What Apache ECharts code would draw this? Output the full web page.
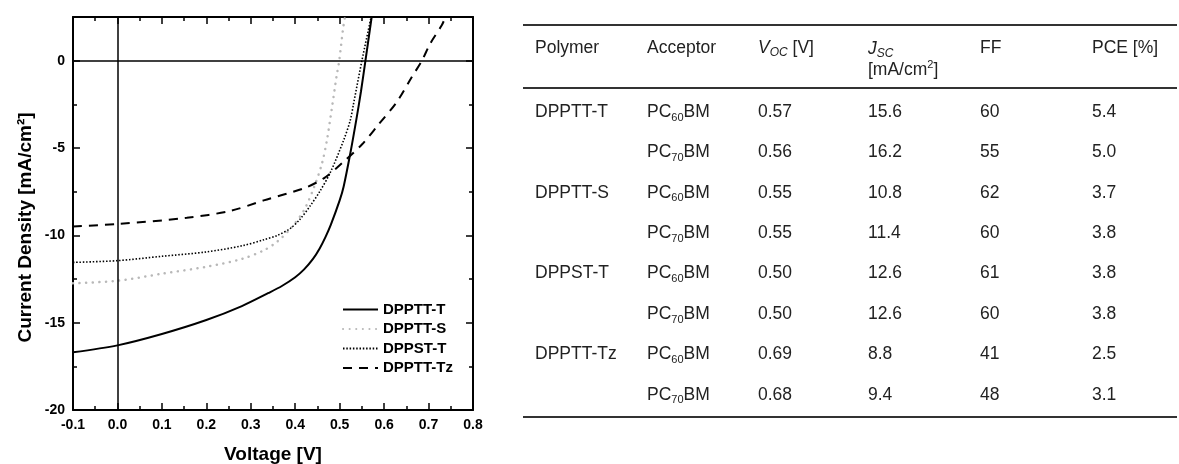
<!DOCTYPE html>
<html>
<head>
<meta charset="utf-8">
<script src="https://cdn.jsdelivr.net/npm/echarts@6/dist/echarts.min.js"></script>
<style>
html, body { margin: 0; padding: 0; background: #fff; }
#main { width: 1179px; height: 464px; }
</style>
</head>
<body>
<div id="main"></div>
<script>
// J-V curves, voltage [V] / current density [mA/cm2]
var vTT  = [-0.1, 0, 0.1, 0.2, 0.28, 0.34, 0.37, 0.4, 0.42, 0.44, 0.455, 0.468, 0.48, 0.5, 0.509, 0.524, 0.537, 0.548, 0.558, 0.572];
var jTT  = [-16.7, -16.3, -15.65, -14.85, -14.05, -13.3, -12.9, -12.4, -11.95, -11.35, -10.75, -10.1, -9.4, -8.0, -7.2, -5.3, -3.45, -1.75, 0, 2.5];
var vTS  = [-0.1, 0, 0.1, 0.2, 0.28, 0.33, 0.36, 0.39, 0.42, 0.443, 0.46, 0.471, 0.482, 0.493, 0.499, 0.508, 0.512];
var jTS  = [-12.75, -12.6, -12.2, -11.8, -11.35, -10.85, -10.35, -9.6, -8.55, -7.2, -5.9, -4.6, -2.8, -0.9, 0, 1.9, 2.5];
var vST  = [-0.1, 0, 0.1, 0.2, 0.28, 0.33, 0.36, 0.389, 0.41, 0.434, 0.455, 0.479, 0.509, 0.524, 0.531, 0.55, 0.57];
var jST  = [-11.55, -11.45, -11.2, -10.95, -10.6, -10.25, -10.0, -9.6, -9.1, -8.3, -7.5, -6.4, -4.55, -3.4, -2.5, 0, 2.4];
var vTz  = [-0.1, 0, 0.156, 0.254, 0.329, 0.42, 0.465, 0.505, 0.55, 0.587, 0.629, 0.662, 0.685, 0.704, 0.73, 0.738];
var jTz  = [-9.49, -9.35, -9.0, -8.6, -8.0, -7.3, -6.72, -5.87, -4.8, -3.67, -2.35, -0.95, 0, 0.99, 2.04, 2.5];

// table
var polymers  = ['DPPTT-T', '', 'DPPTT-S', '', 'DPPST-T', '', 'DPPTT-Tz', ''];
var fullerene = ['60', '70', '60', '70', '60', '70', '60', '70'];
var voc = [0.57, 0.56, 0.55, 0.55, 0.50, 0.50, 0.69, 0.68];
var jsc = [15.6, 16.2, 10.8, 11.4, 12.6, 12.6, 8.8, 9.4];
var ff  = [60, 55, 62, 60, 61, 60, 41, 48];
var pce = [5.4, 5.0, 3.7, 3.8, 3.8, 3.8, 2.5, 3.1];

function zip(xs, ys) {
    var out = [];
    for (var i = 0; i < xs.length; i++) out.push([xs[i], ys[i]]);
    return out;
}

var FONT = '"Liberation Sans", Arial, sans-serif';
var tickStyle = {color: '#000', width: 1.5};

function xAx(pos, showLabel) {
    return {
        type: 'value', position: pos, min: -0.1, max: 0.8, interval: 0.1,
        axisLine: {onZero: false, lineStyle: {color: '#000', width: 2}},
        axisTick: {inside: true, length: 7, lineStyle: tickStyle},
        minorTick: {show: true, splitNumber: 2, length: 4, lineStyle: tickStyle},
        splitLine: {show: false},
        axisLabel: {
            show: showLabel, margin: 8, color: '#000', fontWeight: 'bold', fontSize: 14, fontFamily: FONT,
            formatter: function (v) { return Math.abs(v) < 1e-9 ? '0.0' : v.toFixed(1); }
        },
        name: showLabel ? 'Voltage [V]' : '', nameLocation: 'middle', nameGap: 35,
        nameTextStyle: {color: '#000', fontWeight: 'bold', fontSize: 19, fontFamily: FONT}
    };
}
function yAx(pos, major, showLabel) {
    return {
        type: 'value', position: pos, min: -20, max: 2.5, interval: major ? 5 : 2.5,
        axisLine: {show: major, onZero: false, lineStyle: {color: '#000', width: 2}},
        axisTick: {inside: true, length: major ? 7 : 4, lineStyle: tickStyle},
        splitLine: {show: false},
        axisLabel: {
            show: showLabel, margin: 8, color: '#000', fontWeight: 'bold', fontSize: 14, fontFamily: FONT,
            formatter: function (v) { return v % 5 === 0 ? String(v) : ''; }
        },
        name: showLabel ? 'Current Density [mA/cm²]' : '', nameLocation: 'middle', nameGap: 38,
        nameTextStyle: {color: '#000', fontWeight: 'bold', fontSize: 19, fontFamily: FONT, padding: [0, 28, 0, 0]}
    };
}

// table graphics
var rich = {
    i:    {fontFamily: FONT, fontSize: 17.5, fontStyle: 'italic', lineHeight: 22, color: '#222'},
    sub:  {fontFamily: FONT, fontSize: 11, lineHeight: 15, verticalAlign: 'bottom', color: '#222'},
    isub: {fontFamily: FONT, fontSize: 12, lineHeight: 14, fontStyle: 'italic', verticalAlign: 'bottom', color: '#222'},
    sup:  {fontFamily: FONT, fontSize: 11, lineHeight: 10, verticalAlign: 'top', color: '#222'}
};
function txt(x, y, s) {
    return {
        type: 'text', x: x, y: y, silent: true,
        style: {text: s, fontFamily: FONT, fontSize: 17.5, lineHeight: 22, fill: '#222',
                verticalAlign: 'middle', align: 'left', rich: rich}
    };
}
function rule(y) {
    return {type: 'line', silent: true, shape: {x1: 523, y1: y, x2: 1177, y2: y},
            style: {stroke: '#333', lineWidth: 2}};
}
var colX = [535, 647, 758, 868, 980, 1092];
var graphics = [rule(25), rule(88), rule(417)];
graphics.push(txt(colX[0], 48, 'Polymer'));
graphics.push(txt(colX[1], 48, 'Acceptor'));
graphics.push(txt(colX[2], 48, '{i|V}{isub|OC} [V]'));
graphics.push(txt(colX[3], 49, '{i|J}{isub|SC}'));
graphics.push(txt(colX[3], 70, '[mA/cm{sup|2}]'));
graphics.push(txt(colX[4], 48, 'FF'));
graphics.push(txt(colX[5], 48, 'PCE [%]'));
for (var r = 0; r < polymers.length; r++) {
    var y = 112 + r * 40.4;
    if (polymers[r]) graphics.push(txt(colX[0], y, polymers[r]));
    graphics.push(txt(colX[1], y, 'PC{sub|' + fullerene[r] + '}BM'));
    graphics.push(txt(colX[2], y, voc[r].toFixed(2)));
    graphics.push(txt(colX[3], y, jsc[r].toFixed(1)));
    graphics.push(txt(colX[4], y, String(ff[r])));
    graphics.push(txt(colX[5], y, pce[r].toFixed(1)));
}

var chart = echarts.init(document.getElementById('main'));
chart.setOption({
    animation: false,
    backgroundColor: '#fff',
    grid: {left: 73, top: 17, width: 400, height: 393, outerBoundsMode: 'none'},
    xAxis: [xAx('bottom', true), xAx('top', false)],
    yAxis: [yAx('left', true, true), yAx('left', false, false), yAx('right', true, false), yAx('right', false, false)],
    legend: {
        orient: 'vertical', left: 342, top: 302, padding: 0, itemGap: 4.5, itemWidth: 35, itemHeight: 14,
        itemStyle: {opacity: 0},
        textStyle: {color: '#000', fontWeight: 'bold', fontSize: 15, fontFamily: FONT},
        data: ['DPPTT-T', 'DPPTT-S', 'DPPST-T', 'DPPTT-Tz']
    },
    series: [
        {
            name: 'DPPTT-T', type: 'line', data: zip(vTT, jTT), symbol: 'none', smooth: 0.3,
            lineStyle: {color: '#000', width: 2}, itemStyle: {color: '#000'},
            markLine: {
                silent: true, symbol: 'none', label: {show: false},
                lineStyle: {color: '#000', type: 'solid', width: 1.5},
                data: [{xAxis: 0}, {yAxis: 0}]
            }
        },
        {
            name: 'DPPTT-S', type: 'line', data: zip(vTS, jTS), symbol: 'none', smooth: 0.3,
            lineStyle: {color: '#b8b8b8', width: 2.5, type: [0.1, 6.5], cap: 'round'}, itemStyle: {color: '#b8b8b8'}
        },
        {
            name: 'DPPST-T', type: 'line', data: zip(vST, jST), symbol: 'none', smooth: 0.3,
            lineStyle: {color: '#000', width: 1.6, type: [1.5, 1.8]}, itemStyle: {color: '#000'}
        },
        {
            name: 'DPPTT-Tz', type: 'line', data: zip(vTz, jTz), symbol: 'none', smooth: 0.3,
            lineStyle: {color: '#000', width: 2, type: [9, 7]}, itemStyle: {color: '#000'}
        }
    ],
    graphic: graphics
});
</script>
</body>
</html>
